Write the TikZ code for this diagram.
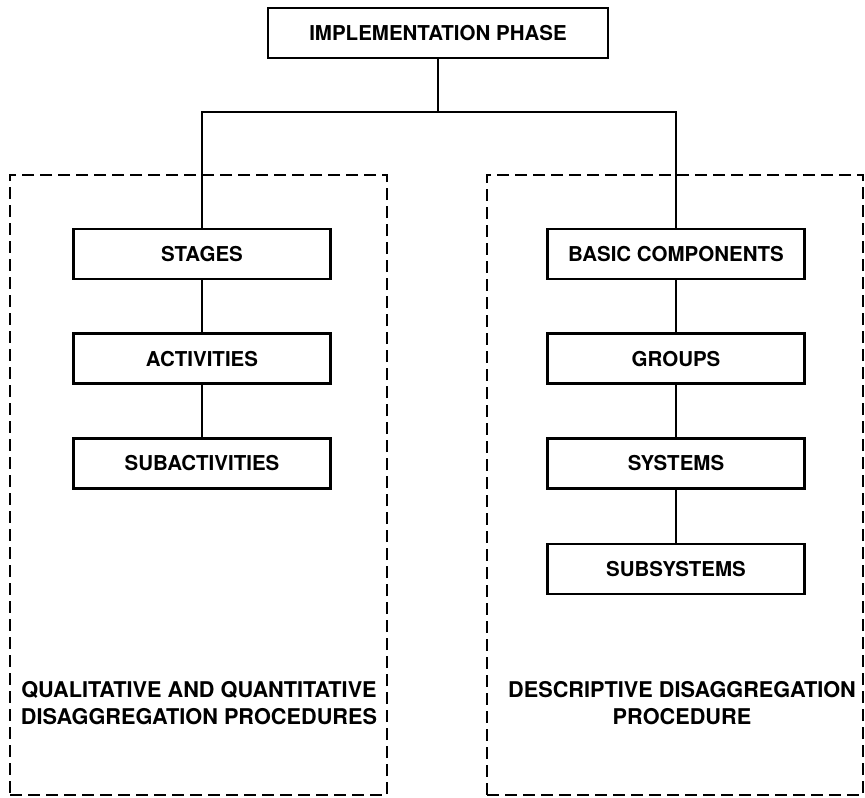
\documentclass[tikz,border=0pt]{standalone}
\usepackage{fontspec}
\setmainfont{TeX Gyre Heros}
\usepackage{tikz}
\usetikzlibrary{positioning}

\begin{document}
\begin{tikzpicture}[x=1pt, y=-1pt, line width=2.6pt]
\tikzstyle{level} = [rectangle, draw, minimum width=257pt, minimum height=50pt, inner sep=0pt, font=\fontsize{20.5}{24}\selectfont\bfseries]
\tikzstyle{group} = [rectangle, draw, dash pattern=on 12pt off 6pt, inner sep=0pt]
\tikzstyle{procedure} = [align=center, inner sep=0pt, font=\fontsize{21.7}{27}\selectfont\bfseries]

\useasboundingbox (0,0) rectangle (865,798);

% dashed groups
\node (qualgroup) [group, minimum width=377pt, minimum height=620pt] at (198.5,485) {};
\node (descgroup) [group, minimum width=376pt, minimum height=620pt] at (675,485) {};

\node (phase) [level, minimum width=340pt] at (438,33) {IMPLEMENTATION PHASE};

\node (stages) [level] at (202,254) {STAGES};
\node (activities) [level, below=52pt of stages] {ACTIVITIES};
\node (subactivities) [level, below=52pt of activities] {SUBACTIVITIES};

\node (basic) [level] at (676,254) {BASIC COMPONENTS};
\node (groups) [level, below=52pt of basic] {GROUPS};
\node (systems) [level, below=52pt of groups] {SYSTEMS};
\node (subsystems) [level, below=53pt of systems] {SUBSYSTEMS};

\coordinate (bus) at (438,112);
\draw (phase) -- (bus);
\draw (bus) -| (stages);
\draw (bus) -| (basic);
\draw (stages) -- (activities);
\draw (activities) -- (subactivities);
\draw (basic) -- (groups);
\draw (groups) -- (systems);
\draw (systems) -- (subsystems);

\node (qualtext) [procedure] at (199,703) {QUALITATIVE AND QUANTITATIVE\\DISAGGREGATION PROCEDURES};
\node (desctext) [procedure] at (682,703) {DESCRIPTIVE DISAGGREGATION\\PROCEDURE};

\end{tikzpicture}
\end{document}
